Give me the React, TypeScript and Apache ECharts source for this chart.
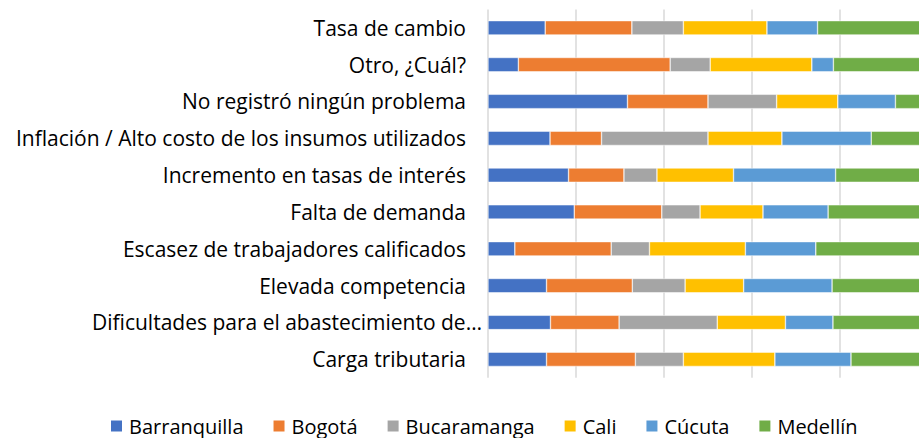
import React, { useEffect, useRef } from "react";
import * as echarts from "echarts";

const categories = [
  "Tasa de cambio",
  "Otro, ¿Cuál?",
  "No registró ningún problema",
  "Inflación / Alto costo de los insumos utilizados",
  "Incremento en tasas de interés",
  "Falta de demanda",
  "Escasez de trabajadores calificados",
  "Elevada competencia",
  "Dificultades para el abastecimiento de…",
  "Carga tributaria",
];

const seriesNames = ["Barranquilla", "Bogotá", "Bucaramanga", "Cali", "Cúcuta", "Medellín"];
const colors = ["#4472C4", "#ED7D31", "#A5A5A5", "#FFC000", "#5B9BD5", "#70AD47"];

const barranquilla = [13.0, 6.9, 31.7, 14.1, 18.3, 19.6, 6.1, 13.3, 14.2, 13.3];
const bogota = [19.7, 34.5, 18.3, 11.7, 12.6, 19.9, 21.9, 19.5, 15.6, 20.2];
const bucaramanga = [11.7, 9.1, 15.6, 24.2, 7.5, 8.7, 8.7, 12.0, 22.3, 10.9];
const cali = [19.0, 23.1, 13.9, 16.8, 17.4, 14.3, 21.8, 13.3, 15.5, 20.8];
const cucuta = [11.5, 4.9, 13.1, 20.3, 23.2, 14.8, 16.0, 20.1, 10.8, 17.3];
const medellin = [25.1, 21.5, 7.4, 12.9, 21.0, 22.7, 25.5, 21.8, 21.6, 17.6];

const seriesData = [barranquilla, bogota, bucaramanga, cali, cucuta, medellin];

const FONT = "'Open Sans', 'Noto Sans', sans-serif";

export default function App() {
  const ref = useRef<HTMLDivElement>(null);

  useEffect(() => {
    if (!ref.current) return;
    const chart = echarts.init(ref.current, undefined, { renderer: "svg" });
    chart.setOption({
      animation: false,
      backgroundColor: "#ffffff",
      textStyle: { fontFamily: FONT },
      grid: { left: 488, width: 440, top: 9.4, height: 368.3, containLabel: false },
      xAxis: {
        type: "value",
        min: 0,
        max: 100,
        interval: 20,
        axisLabel: { show: false },
        axisLine: { show: false },
        axisTick: { show: false },
        splitLine: { show: true, lineStyle: { color: "#d9d9d9", width: 1.5 } },
      },
      yAxis: {
        type: "category",
        inverse: true,
        data: categories,
        axisLine: { show: false },
        axisTick: { show: false },
        axisLabel: {
          margin: 6,
          formatter: (v: string) => (v.startsWith("Dificultades") ? `{b|${v}}` : `{a|${v}}`),
          rich: {
            a: { fontSize: 21, fontFamily: FONT, color: "#000", padding: [0, 16, 0, 0] },
            b: { fontSize: 21, fontFamily: FONT, color: "#000" },
          },
        },
      },
      legend: {
        left: 104,
        top: 411,
        itemWidth: 13,
        itemHeight: 13,
        itemGap: 28,
        icon: "rect",
        textStyle: { fontSize: 20, fontFamily: FONT, color: "#000", padding: [0, 0, 0, 1] },
        data: seriesNames,
      },
      series: seriesNames.map((name, i) => ({
        name,
        type: "bar",
        stack: "total",
        barWidth: 14.3,
        itemStyle: { color: colors[i], borderColor: "#ffffff", borderWidth: 0.5 },
        data: seriesData[i],
      })),
    });
    return () => chart.dispose();
  }, []);

  return (
    <div style={{ position: "fixed", left: 0, top: 0, width: 919, height: 438, overflow: "hidden", background: "#fff" }}>
      <div ref={ref} style={{ width: 940, height: 438 }} />
    </div>
  );
}
